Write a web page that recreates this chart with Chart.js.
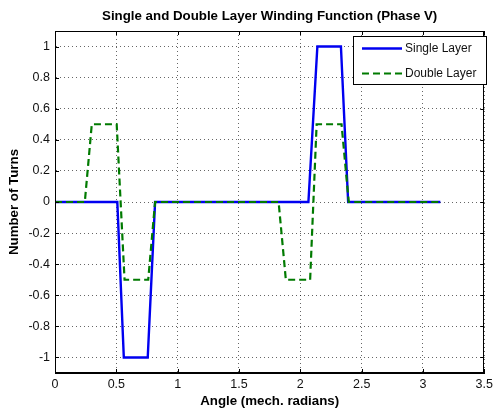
<!DOCTYPE html>
<html>
<head>
<meta charset="utf-8">
<script src="https://cdn.jsdelivr.net/npm/chart.js@4.4.0/dist/chart.umd.min.js"></script>
<style>
  html, body { margin: 0; padding: 0; background: #fff; }
  canvas { display: block; }
</style>
</head>
<body>
<canvas id="c" width="497" height="412"></canvas>
<script>
const titleText = 'Single and Double Layer Winding Function (Phase V)';
const xTitle = 'Angle (mech. radians)';
const yTitle = 'Number of Turns';
const seriesNames = ['Single Layer', 'Double Layer'];

const xTicks = [0, 0.5, 1, 1.5, 2, 2.5, 3, 3.5];
const xTickLabels = ['0', '0.5', '1', '1.5', '2', '2.5', '3', '3.5'];
const yTicks = [-1, -0.8, -0.6, -0.4, -0.2, 0, 0.2, 0.4, 0.6, 0.8, 1];
const yTickLabels = ['-1', '-0.8', '-0.6', '-0.4', '-0.2', '0', '0.2', '0.4', '0.6', '0.8', '1'];

const singleX = [0, 0.508, 0.561, 0.756, 0.816, 2.066, 2.139, 2.331, 2.390, 3.1416];
const singleY = [0, 0, -1, -1, 0, 0, 1, 1, 0, 0];

const doubleX = [0, 0.243, 0.300, 0.503, 0.567, 0.760, 0.816, 1.823, 1.882, 2.080, 2.133, 2.336, 2.395, 3.1416];
const doubleY = [0, 0, 0.5, 0.5, -0.5, -0.5, 0, 0, -0.5, -0.5, 0.5, 0.5, 0, 0];

const toPts = (xs, ys) => xs.map((x, i) => ({ x: x, y: ys[i] }));

const FONT = '"Liberation Sans", Arial, Helvetica, sans-serif';
const TXT = '#111';

const framePlugin = {
  id: 'frame',
  afterDraw(chart) {
    const ctx = chart.ctx;
    const a = chart.chartArea;
    const xs = chart.scales.x, ys = chart.scales.y;
    ctx.save();
    // frame
    ctx.strokeStyle = '#000';
    ctx.lineWidth = 1;
    ctx.strokeRect(Math.round(a.left) + 0.5, Math.round(a.top) + 0.5,
                   Math.round(a.right - a.left) - 1, Math.round(a.bottom - a.top) - 1);
    // inward tick marks
    const tl = 4;
    ctx.beginPath();
    xTicks.forEach(v => {
      const px = Math.round(xs.getPixelForValue(v)) + 0.5;
      ctx.moveTo(px, a.bottom); ctx.lineTo(px, a.bottom - tl);
      ctx.moveTo(px, a.top); ctx.lineTo(px, a.top + tl);
    });
    yTicks.forEach(v => {
      const py = Math.round(ys.getPixelForValue(v)) + 0.5;
      ctx.moveTo(a.left, py); ctx.lineTo(a.left + tl, py);
      ctx.moveTo(a.right, py); ctx.lineTo(a.right - tl, py);
    });
    ctx.stroke();

    // titles
    ctx.fillStyle = '#000';
    ctx.textAlign = 'center';
    ctx.textBaseline = 'middle';
    ctx.font = 'bold 13.3px ' + FONT;
    const cx = (a.left + a.right) / 2;
    ctx.fillText(titleText, cx, 16);
    ctx.fillText(xTitle, cx, 401);
    ctx.save();
    ctx.translate(14, (a.top + a.bottom) / 2);
    ctx.rotate(-Math.PI / 2);
    ctx.fillText(yTitle, 0, 0);
    ctx.restore();

    // legend
    const lx = 353, ly = 36, lw = 133, lh = 48;
    ctx.fillStyle = '#fff';
    ctx.fillRect(lx, ly, lw, lh);
    ctx.strokeStyle = '#000';
    ctx.lineWidth = 1;
    ctx.strokeRect(lx + 0.5, ly + 0.5, lw, lh);
    const rows = [48.5, 73.5];
    chart.data.datasets.forEach((ds, i) => {
      const y = rows[i];
      ctx.save();
      ctx.strokeStyle = ds.borderColor;
      ctx.lineWidth = ds.borderWidth;
      ctx.setLineDash(ds.borderDash || []);
      ctx.beginPath();
      ctx.moveTo(362, y); ctx.lineTo(402, y);
      ctx.stroke();
      ctx.restore();
      ctx.fillStyle = TXT;
      ctx.textAlign = 'left';
      ctx.textBaseline = 'middle';
      ctx.font = '12px ' + FONT;
      ctx.fillText(ds.label, 405, y + 0.5);
    });
    ctx.restore();
  }
};

new Chart(document.getElementById('c'), {
  type: 'line',
  data: {
    datasets: [
      {
        label: seriesNames[0],
        data: toPts(singleX, singleY),
        borderColor: '#0000f0',
        borderWidth: 2.4,
        pointRadius: 0,
        tension: 0,
        fill: false,
        order: 1
      },
      {
        label: seriesNames[1],
        data: toPts(doubleX, doubleY),
        borderColor: '#007a00',
        borderWidth: 2.2,
        borderDash: [7, 4],
        pointRadius: 0,
        tension: 0,
        fill: false,
        order: 0
      }
    ]
  },
  options: {
    responsive: false,
    animation: false,
    events: [],
    layout: { padding: { top: 31, right: 10, left: 0, bottom: 0 } },
    plugins: { legend: { display: false }, title: { display: false }, tooltip: { enabled: false } },
    scales: {
      x: {
        type: 'linear',
        min: 0, max: 3.5,
        afterBuildTicks: s => { s.ticks = xTicks.map(v => ({ value: v })); },
        afterFit: s => { s.height = 39; },
        ticks: {
          autoSkip: false, maxRotation: 0, padding: 4,
          color: TXT, font: { family: FONT, size: 12.5 },
          callback: (v, i) => xTickLabels[i]
        },
        grid: { color: 'rgba(0,0,0,0.6)', lineWidth: 1, drawTicks: false },
        border: { display: true, color: '#000', width: 1, dash: [1, 3] }
      },
      y: {
        type: 'linear',
        min: -1.1, max: 1.1,
        afterBuildTicks: s => { s.ticks = yTicks.map(v => ({ value: v })); },
        afterFit: s => { s.width = 55; },
        ticks: {
          padding: 5,
          color: TXT, font: { family: FONT, size: 12.5 },
          callback: (v, i) => yTickLabels[i]
        },
        grid: { color: 'rgba(0,0,0,0.6)', lineWidth: 1, drawTicks: false },
        border: { display: true, color: '#000', width: 1, dash: [1, 3] }
      }
    }
  },
  plugins: [framePlugin]
});
</script>
</body>
</html>
